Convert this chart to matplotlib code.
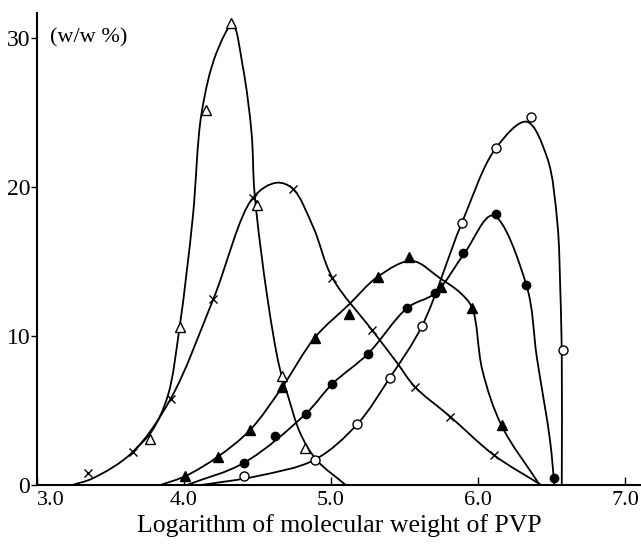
import numpy as np
import matplotlib
matplotlib.use("Agg")
import matplotlib.pyplot as plt
from matplotlib.path import Path
from matplotlib.patches import PathPatch

# ---- data ----
# open triangles
tri_o_x = [3.77, 3.97, 4.15, 4.32, 4.50, 4.67, 4.82]
tri_o_y = [3.1, 10.6, 25.2, 31.0, 18.8, 7.3, 2.5]
tri_o_cx = [3.65, 3.78, 3.89, 3.97, 4.06, 4.12, 4.22, 4.33, 4.40, 4.46, 4.48, 4.57, 4.65, 4.71, 4.79, 4.90, 5.10]
tri_o_cy = [2.2, 3.6, 6.0, 10.6, 18.0, 25.0, 29.0, 30.9, 28.1, 23.6, 19.6, 12.4, 7.9, 5.9, 3.5, 1.7, 0.0]

# crosses
cross_x = [3.35, 3.65, 3.91, 4.20, 4.47, 4.74, 5.01, 5.28, 5.57, 5.81, 6.11]
cross_y = [0.8, 2.2, 5.8, 12.5, 19.3, 19.9, 13.9, 10.4, 6.6, 4.6, 2.0]
cross_cx = [3.24, 3.38, 3.65, 3.91, 4.20, 4.47, 4.63, 4.74, 4.88, 5.01, 5.28, 5.45, 5.57, 5.81, 6.11, 6.43]
cross_cy = [0.0, 0.45, 2.2, 5.8, 12.5, 19.3, 20.3, 19.9, 17.3, 13.9, 10.4, 8.2, 6.6, 4.6, 2.0, 0.0]

# filled triangles
tri_f_x = [4.01, 4.23, 4.45, 4.67, 4.89, 5.12, 5.32, 5.53, 5.75, 5.96, 6.16]
tri_f_y = [0.6, 1.9, 3.7, 6.6, 9.9, 11.5, 14.0, 15.3, 13.3, 11.9, 4.0]
tri_f_cx = [3.84, 4.01, 4.23, 4.45, 4.67, 4.89, 5.12, 5.32, 5.55, 5.74, 5.88, 5.96, 6.03, 6.16, 6.42]
tri_f_cy = [0.0, 0.6, 1.9, 3.7, 6.6, 9.9, 12.1, 14.0, 15.05, 13.9, 12.9, 11.9, 7.7, 4.0, 0.0]

# filled circles
circ_f_x = [4.41, 4.62, 4.83, 5.01, 5.25, 5.52, 5.71, 5.90, 6.12, 6.33, 6.52]
circ_f_y = [1.5, 3.3, 4.8, 6.8, 8.8, 11.9, 12.9, 15.6, 18.2, 13.4, 0.5]
circ_f_cx = [4.02, 4.41, 4.83, 5.01, 5.25, 5.52, 5.71, 5.91, 6.10, 6.33, 6.40, 6.49, 6.52]
circ_f_cy = [0.0, 1.5, 4.8, 6.8, 8.8, 11.9, 12.9, 15.6, 18.1, 13.4, 8.6, 3.0, 0.0]

# open circles
circ_o_x = [4.41, 4.89, 5.18, 5.40, 5.62, 5.89, 6.12, 6.36, 6.58]
circ_o_y = [0.6, 1.7, 4.1, 7.2, 10.7, 17.6, 22.6, 24.7, 9.1]
circ_o_cx = [4.12, 4.50, 4.89, 5.18, 5.40, 5.62, 5.89, 6.12, 6.33, 6.47, 6.54, 6.56, 6.57, 6.57]
circ_o_cy = [0.0, 0.6, 1.7, 4.1, 7.2, 10.7, 17.6, 22.6, 24.4, 22.0, 17.6, 13.1, 8.6, 0.0]

x_ticks = [3.0, 4.0, 5.0, 6.0, 7.0]
x_tick_labels = ["3.0", "4.0", "5.0", "6.0", "7.0"]
y_ticks = [0, 10, 20, 30]
y_tick_labels = ["0", "10", "20", "30"]

SERIF = ["Liberation Serif", "DejaVu Serif"]
plt.rcParams["font.family"] = SERIF

fig = plt.figure(figsize=(6.41, 5.47), dpi=100)
W, H = 641, 547
ax = fig.add_axes([37 / W, 62 / H, (641 - 37) / W, (485 - 13) / H])
ax.set_xlim(3.0, 7.109)
ax.set_ylim(0, 31.7)


def smooth_path(xs, ys):
    """Centripetal Catmull-Rom through the knots, evaluated in display space,
    emitted as cubic Bezier segments in data space."""
    data = np.column_stack([xs, ys]).astype(float)
    pts = ax.transData.transform(data)
    n = len(pts)
    ext = np.vstack([2 * pts[0] - pts[1], pts, 2 * pts[-1] - pts[-2]])
    verts = [pts[0]]
    codes = [Path.MOVETO]
    a = 0.5
    for i in range(n - 1):
        p0, p1, p2, p3 = ext[i], ext[i + 1], ext[i + 2], ext[i + 3]
        d1 = max(np.linalg.norm(p1 - p0), 1e-6) ** a
        d2 = max(np.linalg.norm(p2 - p1), 1e-6) ** a
        d3 = max(np.linalg.norm(p3 - p2), 1e-6) ** a
        b1 = (d1 ** 2 * p2 - d2 ** 2 * p0 + (2 * d1 ** 2 + 3 * d1 * d2 + d2 ** 2) * p1) / (3 * d1 * (d1 + d2))
        b2 = (d3 ** 2 * p1 - d2 ** 2 * p3 + (2 * d3 ** 2 + 3 * d3 * d2 + d2 ** 2) * p2) / (3 * d3 * (d3 + d2))
        verts += [b1, b2, p2]
        codes += [Path.CURVE4] * 3
    verts = ax.transData.inverted().transform(np.array(verts))
    return Path(verts, codes)


lw = 1.3
for cx, cy in [(tri_o_cx, tri_o_cy), (cross_cx, cross_cy), (tri_f_cx, tri_f_cy),
               (circ_f_cx, circ_f_cy), (circ_o_cx, circ_o_cy)]:
    ax.add_patch(PathPatch(smooth_path(cx, cy), fill=False, lw=lw, color="black",
                           transform=ax.transData, clip_on=False))

ms = 6.5
ax.plot(tri_o_x, tri_o_y, ls="none", marker="^", ms=ms, mfc="white", mec="black", mew=1.0, zorder=3)
ax.plot(cross_x, cross_y, ls="none", marker="x", ms=5.5, mec="black", mew=1.0, zorder=3)
ax.plot(tri_f_x, tri_f_y, ls="none", marker="^", ms=ms, mfc="black", mec="black", zorder=3)
ax.plot(circ_f_x, circ_f_y, ls="none", marker="o", ms=6, mfc="black", mec="black", zorder=3)
ax.plot(circ_o_x, circ_o_y, ls="none", marker="o", ms=6.5, mfc="white", mec="black", mew=1.0, zorder=3)

for s in ["top", "right"]:
    ax.spines[s].set_visible(False)
for s in ["left", "bottom"]:
    ax.spines[s].set_linewidth(1.5)

ax.set_xticks(x_ticks)
ax.set_xticklabels(x_tick_labels)
ax.set_yticks(y_ticks)
ax.set_yticklabels(y_tick_labels)
ax.tick_params(axis="x", direction="in", length=6, width=1, labelsize=16, pad=4)
ax.tick_params(axis="y", direction="out", length=4, width=1, labelsize=17, pad=1)
ax.get_xticklabels()[0].set_ha("left")

ax.text(3.09, 30, "(w/w %)", fontsize=16, va="center", ha="left")
ax.set_xlabel("Logarithm of molecular weight of PVP", fontsize=18.5, labelpad=3)

fig.savefig("out.png", dpi=100)
